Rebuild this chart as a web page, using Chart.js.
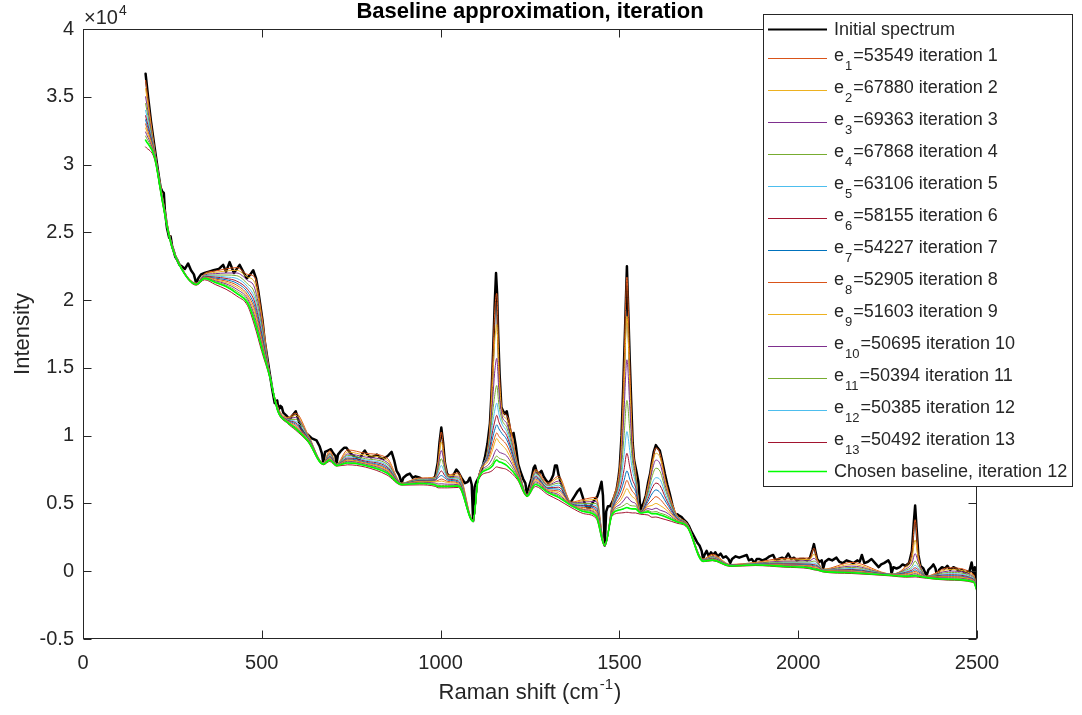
<!DOCTYPE html>
<html>
<head>
<meta charset="utf-8">
<script src="https://cdn.jsdelivr.net/npm/chart.js@4.4.1/dist/chart.umd.min.js"></script>
<style>
  html, body { margin: 0; padding: 0; background: #ffffff; }
  canvas { display: block; }
</style>
</head>
<body>
<canvas id="c" width="1082" height="715"></canvas>
<script>
// Raman spectrum (shift in cm^-1, intensity in counts)
const SHIFT = [175,182,190,200,210,217,222,226,229,235,241,245,249,255,258,263,270,276,285,294,302,310,317,322,330,340,352,365,380,392,400,410,422,438,450,458,468,476,484,490,495,502,508,515,522,530,536,540,543,547,552,556,560,568,578,586,595,602,610,618,628,640,653,662,668,672,677,685,693,700,706,709,713,722,730,737,745,752,762,774,782,788,795,805,815,822,830,840,852,863,870,877,884,891,896,905,914,922,930,942,952,960,968,975,985,992,997,1002,1007,1012,1018,1025,1032,1038,1044,1050,1058,1068,1076,1082,1087,1091,1095,1100,1108,1116,1124,1131,1138,1143,1147,1151,1155,1158,1161,1165,1170,1175,1180,1185,1190,1195,1200,1204,1210,1217,1224,1231,1237,1242,1247,1254,1260,1264,1269,1275,1282,1288,1295,1301,1308,1315,1320,1325,1330,1337,1343,1350,1356,1362,1369,1376,1383,1390,1396,1403,1410,1417,1424,1431,1438,1444,1450,1454,1459,1463,1468,1474,1480,1487,1492,1497,1501,1506,1511,1516,1521,1525,1529,1533,1537,1541,1548,1553,1559,1563,1567,1574,1580,1586,1590,1596,1602,1607,1613,1620,1627,1634,1641,1648,1655,1662,1667,1674,1680,1688,1695,1700,1706,1712,1718,1724,1730,1734,1738,1744,1750,1756,1762,1768,1775,1783,1790,1798,1805,1810,1815,1825,1835,1845,1856,1862,1870,1878,1884,1892,1900,1910,1920,1930,1937,1945,1955,1963,1972,1980,1988,1996,2005,2015,2025,2033,2040,2044,2048,2053,2060,2066,2070,2075,2085,2095,2107,2115,2125,2135,2145,2155,2165,2172,2178,2185,2195,2205,2215,2225,2232,2240,2252,2258,2261,2266,2275,2284,2292,2300,2310,2318,2323,2327,2331,2336,2342,2350,2359,2364,2372,2378,2384,2389,2394,2402,2410,2417,2425,2434,2442,2450,2458,2466,2472,2478,2485,2490,2494,2497,2500];
const INTENSITY = [36700,35000,33200,31300,29500,28300,28000,27900,26600,25300,24600,24700,24000,23500,23200,23000,22600,22500,22300,22700,22200,21900,21200,21600,21900,22000,22100,22200,22300,22600,22100,22800,22000,22600,22000,21600,21900,22200,21600,20700,19800,18500,17000,15800,14600,13300,12400,12500,12600,11900,12200,12100,11700,11500,11200,11500,11800,11200,10500,10200,10100,9800,9650,9200,8700,8000,8800,8900,9000,8700,8500,7900,8600,8900,9100,9100,8800,8600,8400,8300,8700,8900,8600,8400,8500,8600,8400,8300,8500,8800,8200,7400,7100,6500,6900,7100,7200,6900,7000,6900,6700,6500,6700,6700,7000,8000,9500,10600,9500,8000,7200,7000,6900,7200,7500,7300,6900,6500,6600,6900,6400,3700,6200,6600,7000,7600,8400,9400,10900,13500,16300,19500,22000,20500,17500,14500,12100,11800,11600,11800,11100,10300,10000,10200,9300,7900,7300,6800,6500,5600,6200,6800,7600,7800,7300,7200,7400,7000,6700,6500,6700,7100,7800,7800,7100,6500,6000,5600,5200,5000,5300,5600,5900,6100,5600,5000,4700,4700,5000,5300,5500,6000,6600,5600,1900,4400,4800,4800,5100,5600,6000,6800,7700,10000,13800,18000,22500,19000,15500,12500,9500,8200,7300,6600,4400,4800,5000,5600,6500,7200,7900,8800,9300,9100,8900,8100,7200,6400,5700,4900,4200,4200,4100,4000,3800,3600,3300,3000,2700,2400,2100,1900,1500,900,1200,1500,1100,1400,1200,1400,1100,1300,1000,1100,900,600,900,1100,1000,1100,1200,800,900,600,900,900,800,900,1100,1200,800,900,1000,900,1300,900,1000,800,900,900,800,1000,1600,2000,1500,900,700,800,200,700,900,800,1000,700,600,800,700,600,800,700,1200,600,700,900,600,300,500,600,800,500,-200,300,200,300,500,400,600,1500,3500,4850,3200,1200,400,200,-350,100,300,500,200,-500,100,300,200,400,100,300,200,0,100,-100,0,-100,650,-200,300,-900,-1200];

// Baseline estimates, one array per iteration, sampled at BASE_SHIFT
const BASE_SHIFT = [175,200,222,245,275,317,340,370,400,430,460,480,500,522,545,572,595,630,672,690,709,740,790,850,891,940,985,993,1002,1011,1020,1050,1091,1105,1135,1146,1151,1157,1163,1172,1185,1215,1242,1265,1300,1330,1365,1400,1435,1459,1480,1505,1513,1521,1529,1536,1545,1559,1580,1591,1602,1614,1630,1660,1690,1734,1760,1810,1880,1960,2033,2044,2053,2070,2150,2261,2300,2318,2327,2336,2359,2420,2490,2500];
const ITER_1 = [36200,31200,27700,24500,22450,21250,21950,22150,22300,22400,21900,21700,18900,14600,12100,11350,11650,10050,8000,8900,7900,8950,8700,8350,6500,6880,6950,8100,10270,8300,7100,7250,3750,6850,9800,15500,19000,20500,15500,11900,11500,8000,5650,7500,6500,7000,5100,5300,5450,1950,5050,9300,15200,21700,15200,10000,7500,4400,6350,7950,9100,8650,6600,4200,3500,900,1250,500,650,950,980,1700,880,150,650,-200,380,1400,3800,1150,-360,250,-220,-1250];
const ITER_2 = [35600,31100,27650,24470,22430,21240,21900,22050,22150,22200,21700,21300,18600,14580,12050,11300,11500,10000,7990,8800,7890,8800,8550,8200,6490,6840,6920,7900,9530,8100,7050,7100,3740,6840,9600,14200,16800,18200,14500,11700,11200,7900,5640,7400,6400,6850,5070,5200,5300,1940,4950,8600,13500,18800,13800,9500,7250,4390,6150,7700,8700,8350,6400,4150,3480,880,1150,490,610,830,880,1250,800,130,500,-210,250,900,2300,900,-370,120,-300,-1270];
const ITER_3 = [35000,31000,27600,24450,22420,21230,21850,21950,22000,22000,21450,20900,18300,14560,12000,11250,11350,9950,7980,8700,7880,8650,8420,8050,6480,6800,6880,7700,8900,7850,7000,6950,3730,6830,9400,12800,14600,15700,13300,11450,10900,7800,5630,7300,6350,6650,5040,5100,5150,1930,4850,8000,11800,15600,12200,8900,7000,4380,5950,7350,8200,7900,6150,4100,3460,860,1080,480,580,740,780,950,700,110,380,-220,150,600,1300,650,-380,10,-380,-1290];
const ITER_4 = [34500,30950,27550,24420,22400,21220,21800,21850,21850,21800,21200,20500,18000,14540,11980,11200,11200,9900,7970,8620,7870,8550,8300,7920,6470,6760,6850,7450,8300,7550,6950,6850,3720,6820,9200,11800,12900,13700,12300,11150,10600,7700,5620,7200,6300,6500,5010,5000,5000,1920,4750,7400,10000,12600,10400,8200,6800,4370,5750,6950,7600,7350,5900,4050,3440,840,1020,470,560,660,680,750,600,90,280,-230,60,350,750,400,-390,-90,-450,-1310];
const ITER_5 = [34000,30900,27500,24400,22390,21210,21780,21780,21700,21600,21000,20150,17750,14520,11950,11170,11050,9850,7960,8550,7860,8450,8200,7800,6460,6720,6800,7250,7800,7300,6880,6750,3710,6810,9000,11000,11800,12400,11600,10850,10300,7600,5610,7100,6200,6350,4990,4900,4850,1910,4650,6900,8600,10300,8900,7500,6500,4360,5550,6450,6900,6750,5600,4000,3420,820,980,460,540,600,590,600,500,70,200,-240,-20,200,450,220,-400,-180,-510,-1330];
const ITER_6 = [33600,30850,27450,24380,22380,21200,21750,21700,21600,21400,20800,19850,17500,14500,11930,11140,10950,9800,7950,8480,7850,8350,8120,7700,6450,6690,6750,7050,7400,7080,6800,6650,3700,6800,8800,10400,11000,11500,11000,10500,10000,7500,5600,7000,6150,6200,4970,4850,4700,1900,4570,6400,7500,8700,7700,6800,6200,4350,5350,6100,6500,6300,5350,3950,3400,800,950,450,520,550,520,480,420,50,130,-250,-90,80,250,100,-410,-260,-560,-1350];
const ITER_7 = [33300,30800,27400,24360,22370,21200,21720,21620,21500,21250,20600,19550,17300,14480,11900,11110,10850,9760,7940,8420,7840,8280,8050,7600,6440,6660,6700,6900,7060,6900,6720,6570,3700,6790,8600,9900,10400,10800,10500,10150,9700,7400,5590,6900,6100,6050,4950,4800,4550,1900,4500,6000,6700,7400,6800,6300,5900,4340,5150,5700,6000,5800,5100,3900,3380,790,920,440,510,510,460,400,360,40,80,-260,-150,-20,100,-20,-420,-330,-610,-1370];
const ITER_8 = [33000,30750,27380,24340,22360,21190,21700,21550,21400,21100,20400,19300,17100,14460,11880,11080,10750,9720,7930,8370,7830,8220,7990,7520,6430,6630,6650,6700,6800,6720,6620,6500,3690,6780,8400,9400,9850,10200,9950,9700,9300,7300,5580,6800,6000,5920,4930,4700,4450,1900,4430,5600,6150,6700,6250,5900,5600,4330,4950,5250,5500,5300,4800,3850,3360,780,900,430,500,470,400,330,300,30,30,-270,-200,-100,0,-110,-430,-390,-650,-1390];
const ITER_9 = [32700,30700,27350,24320,22350,21180,21680,21480,21300,20950,20250,19050,16900,14440,11860,11050,10650,9680,7920,8320,7820,8160,7940,7450,6420,6600,6600,6600,6650,6600,6540,6440,3690,6770,8200,9000,9450,9800,9550,9300,8900,7200,5570,6700,5950,5780,4910,4600,4350,1900,4370,5300,5700,6100,5750,5500,5300,4320,4780,4850,5000,4850,4550,3800,3340,770,880,420,490,440,350,270,240,20,-10,-280,-250,-170,-100,-190,-440,-440,-690,-1410];
const ITER_10 = [32400,30650,27320,24300,22340,21170,21650,21420,21200,20800,20100,18800,16750,14420,11840,11020,10600,9640,7910,8280,7810,8110,7890,7380,6410,6560,6500,6430,6450,6430,6420,6380,3680,6760,7900,8400,8750,9000,8800,8700,8500,7100,5560,6600,5900,5650,4890,4550,4250,1900,4310,5000,5250,5500,5250,5100,5000,4310,4620,4550,4650,4500,4350,3750,3320,760,860,410,480,410,300,220,190,10,-50,-290,-300,-240,-180,-260,-450,-490,-720,-1420];
const ITER_11 = [32100,30600,27300,24280,22330,21160,21620,21360,21100,20650,19950,18600,16600,14400,11820,11000,10550,9600,7900,8240,7800,8050,7840,7320,6400,6520,6420,6320,6330,6320,6320,6330,3680,6750,7700,8000,8300,8500,8350,8250,8100,7000,5550,6500,5850,5550,4870,4500,4150,1900,4260,4750,4870,5000,4870,4820,4800,4300,4480,4360,4400,4280,4150,3700,3300,750,840,400,470,380,260,180,150,0,-80,-300,-340,-300,-260,-320,-460,-540,-750,-1430];
const ITER_12 = [31800,30550,27280,24260,22320,21150,21600,21300,21000,20500,19800,18400,16450,14380,11800,10980,10500,9570,7890,8200,7790,7980,7800,7250,6390,6470,6360,6250,6250,6250,6250,6280,3670,6740,7550,7800,8050,8200,8080,8000,7800,6900,5540,6400,5800,5450,4850,4400,4050,1900,4210,4550,4620,4700,4620,4600,4600,4290,4380,4240,4250,4150,4000,3650,3280,740,820,390,460,350,230,150,120,-10,-110,-310,-380,-350,-330,-370,-470,-600,-780,-1450];
const ITER_13 = [31300,30400,27200,24200,22300,21100,21500,21150,20800,20300,19600,18100,16200,14300,11750,10900,10400,9500,7850,8100,7750,7850,7680,7100,6350,6370,6260,6150,6150,6150,6150,6180,3650,6700,7300,7450,7600,7700,7650,7600,7500,6750,5500,6250,5650,5250,4700,4250,3900,1850,4100,4300,4320,4350,4320,4300,4300,4200,4150,3980,4000,3920,3800,3550,3200,700,780,350,420,300,180,100,70,-60,-170,-350,-440,-430,-420,-450,-520,-660,-830,-1480];

// Fit error reported for each iteration
const ERRORS = [53549,67880,69363,67868,63106,58155,54227,52905,51603,50695,50394,50385,50492];
const CHOSEN_ITERATION = 12;

// Axis ticks
const X_TICKS = [0,500,1000,1500,2000,2500];
const X_TICK_LABELS = ['0','500','1000','1500','2000','2500'];
const Y_TICKS = [-5000,0,5000,10000,15000,20000,25000,30000,35000,40000];
const Y_TICK_LABELS = ['-0.5','0','0.5','1','1.5','2','2.5','3','3.5','4'];

const ITERATIONS = [ITER_1,ITER_2,ITER_3,ITER_4,ITER_5,ITER_6,ITER_7,ITER_8,ITER_9,ITER_10,ITER_11,ITER_12,ITER_13];
const ITER_COLORS = ['#D95319','#EDB120','#7E2F8E','#77AC30','#4DBEEE','#A2142F','#0072BD','#D95319','#EDB120','#7E2F8E','#77AC30','#4DBEEE','#A2142F'];
const INK = '#262626';
const FAMILY = "'Liberation Sans', Arial, Helvetica, sans-serif";

function pairs(xs, ys) { return xs.map((x, i) => ({ x: x, y: ys[i] })); }

const datasets = [];
datasets.push({
  label: 'Initial spectrum', data: pairs(SHIFT, INTENSITY),
  borderColor: '#000000', borderWidth: 2.5, tension: 0, order: 100
});
ITERATIONS.forEach((vals, k) => {
  datasets.push({
    label: 'e' + (k + 1) + '=' + ERRORS[k] + ' iteration ' + (k + 1),
    data: pairs(BASE_SHIFT, vals),
    borderColor: ITER_COLORS[k], borderWidth: 1,
    cubicInterpolationMode: 'monotone', order: 50 - k
  });
});
datasets.push({
  label: 'Chosen baseline, iteration ' + CHOSEN_ITERATION,
  data: pairs(BASE_SHIFT, ITERATIONS[CHOSEN_ITERATION - 1]),
  borderColor: '#00FF00', borderWidth: 1.6,
  cubicInterpolationMode: 'monotone', order: 0
});

// Legend rows: plain rows are shorter than rows with a subscript
const legendRows = [{ text: 'Initial spectrum', color: '#000000', width: 2 }];
ERRORS.forEach((err, k) => legendRows.push({ sub: String(k + 1), rest: '=' + err + ' iteration ' + (k + 1), color: ITER_COLORS[k], width: 1 }));
legendRows.push({ text: 'Chosen baseline, iteration ' + CHOSEN_ITERATION, color: '#00FF00', width: 1.5 });

const decor = {
  id: 'decor',
  afterDraw(chart) {
    const { ctx, chartArea: a, scales } = chart;
    const xs = scales.x, ys = scales.y;
    const L = Math.round(a.left) + 0.5, R = Math.round(a.right) - 0.5;
    const T = Math.round(a.top) + 0.5, B = Math.round(a.bottom) - 0.5;
    ctx.save();
    // axes box with inward ticks
    ctx.strokeStyle = INK; ctx.lineWidth = 1;
    ctx.strokeRect(L, T, R - L, B - T);
    const tl = 8;
    ctx.beginPath();
    X_TICKS.forEach(v => {
      const px = Math.round(xs.getPixelForValue(v)) + 0.5;
      ctx.moveTo(px, B); ctx.lineTo(px, B - tl);
      ctx.moveTo(px, T); ctx.lineTo(px, T + tl);
    });
    Y_TICKS.forEach(v => {
      const py = Math.round(ys.getPixelForValue(v)) + 0.5;
      ctx.moveTo(L, py); ctx.lineTo(L + tl, py);
      ctx.moveTo(R, py); ctx.lineTo(R - tl, py);
    });
    ctx.stroke();

    // exponent of the y axis
    ctx.fillStyle = INK; ctx.textAlign = 'left'; ctx.textBaseline = 'middle';
    ctx.font = '20px ' + FAMILY;
    ctx.fillText('\u00D710', 84, 18);
    const w10 = ctx.measureText('\u00D710').width;
    ctx.font = '14px ' + FAMILY;
    ctx.fillText('4', 84 + w10 + 1, 11);

    // x axis title with superscript
    const p1 = 'Raman shift (cm', p2 = '-1', p3 = ')';
    ctx.font = '22px ' + FAMILY; const w1 = ctx.measureText(p1).width, w3 = ctx.measureText(p3).width;
    ctx.font = '15px ' + FAMILY; const w2 = ctx.measureText(p2).width;
    const cx = (a.left + a.right) / 2;
    const x0 = cx - (w1 + w2 + w3 + 2) / 2;
    ctx.font = '22px ' + FAMILY; ctx.fillText(p1, x0, 693);
    ctx.font = '15px ' + FAMILY; ctx.fillText(p2, x0 + w1 + 1, 685);
    ctx.font = '22px ' + FAMILY; ctx.fillText(p3, x0 + w1 + w2 + 2, 693);

    // y axis title
    ctx.save();
    ctx.translate(23, (a.top + a.bottom) / 2);
    ctx.rotate(-Math.PI / 2);
    ctx.textAlign = 'center';
    ctx.fillText('Intensity', 0, 0);
    ctx.restore();

    // legend
    const LL = 763.5, LT = 14.5, LR = 1072.5, LB = 486.5;
    ctx.fillStyle = '#ffffff'; ctx.fillRect(LL, LT, LR - LL, LB - LT);
    ctx.strokeStyle = INK; ctx.lineWidth = 1; ctx.strokeRect(LL, LT, LR - LL, LB - LT);
    let top = 16;
    legendRows.forEach(r => {
      const h = r.sub ? 32 : 26;
      const cy = top + h / 2;
      const ly = Math.round(cy) + 0.5;
      ctx.strokeStyle = r.color; ctx.lineWidth = r.width;
      ctx.beginPath(); ctx.moveTo(768, ly); ctx.lineTo(827, ly); ctx.stroke();
      ctx.fillStyle = INK; ctx.textAlign = 'left'; ctx.textBaseline = 'middle';
      ctx.font = '18px ' + FAMILY;
      if (r.sub) {
        ctx.fillText('e', 834, cy - 2);
        const we = ctx.measureText('e').width;
        ctx.font = '13px ' + FAMILY;
        ctx.fillText(r.sub, 834 + we + 1, cy + 8);
        const ws = ctx.measureText(r.sub).width;
        ctx.font = '18px ' + FAMILY;
        ctx.fillText(r.rest, 834 + we + ws + 2, cy - 2);
      } else {
        ctx.fillText(r.text, 834, cy + 1);
      }
      top += h;
    });

    // title
    ctx.fillStyle = '#000000'; ctx.textAlign = 'center'; ctx.textBaseline = 'middle';
    ctx.font = 'bold 22px ' + FAMILY;
    ctx.fillText('Baseline approximation, iteration', cx, 12);
    ctx.restore();
  }
};

new Chart(document.getElementById('c'), {
  type: 'line',
  data: { datasets: datasets },
  options: {
    responsive: false,
    animation: false,
    devicePixelRatio: 1,
    layout: { padding: { left: 23, right: 105, top: 29, bottom: 36 } },
    elements: { point: { radius: 0 }, line: { borderJoinStyle: 'round', borderCapStyle: 'round' } },
    plugins: { legend: { display: false }, title: { display: false }, tooltip: { enabled: false } },
    scales: {
      x: {
        type: 'linear', min: 0, max: 2500,
        afterBuildTicks: s => { s.ticks = X_TICKS.map(v => ({ value: v })); },
        afterFit: s => { s.height = 40; },
        grid: { display: false, drawTicks: false },
        border: { display: false },
        ticks: { padding: 12, color: INK, maxRotation: 0, autoSkip: false,
                 font: { family: FAMILY, size: 20 },
                 callback: (v, i) => X_TICK_LABELS[i] }
      },
      y: {
        type: 'linear', min: -5000, max: 40000,
        afterBuildTicks: s => { s.ticks = Y_TICKS.map(v => ({ value: v })); },
        afterFit: s => { s.width = 60; },
        grid: { display: false, drawTicks: false },
        border: { display: false },
        ticks: { padding: 9, color: INK, autoSkip: false,
                 font: { family: FAMILY, size: 20 },
                 callback: (v, i) => Y_TICK_LABELS[i] }
      }
    }
  },
  plugins: [decor]
});
</script>
</body>
</html>
